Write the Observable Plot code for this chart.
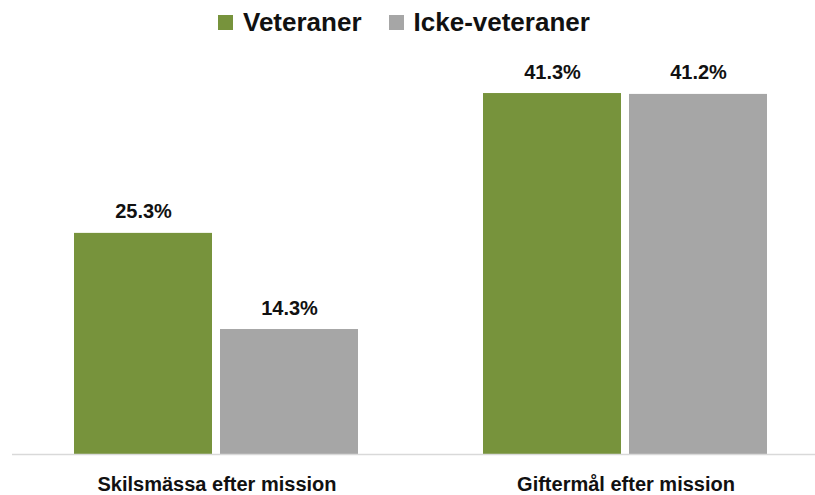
<!DOCTYPE html>
<html>
<head>
<meta charset="utf-8">
<script src="https://cdn.jsdelivr.net/npm/d3@7"></script>
<script src="https://cdn.jsdelivr.net/npm/@observablehq/plot@0.6"></script>
<style>
  html, body { margin: 0; padding: 0; background: #fff; }
  #wrap { position: relative; width: 815px; height: 495px; font-family: "Liberation Sans", Arial, sans-serif; }
  #legend { position: absolute; left: 218px; top: 7px; display: flex; align-items: center; font-weight: bold; font-size: 26px; color: #111; }
  .item { display: flex; align-items: center; margin-right: 27px; }
  .sw { width: 15px; height: 15px; margin-right: 10px; }
  svg { display: block; }
</style>
</head>
<body>
<div id="wrap"><div id="legend"></div></div>
<script>
const categories = ["Skilsmässa efter mission", "Giftermål efter mission"];
const series = ["Veteraner", "Icke-veteraner"];
const veteraner = [25.3, 41.3];
const ickeVeteraner = [14.3, 41.2];
const colors = ["#77933C", "#A6A6A6"];

const data = [];
categories.forEach((c, i) => {
  data.push({category: c, series: series[0], value: veteraner[i]});
  data.push({category: c, series: series[1], value: ickeVeteraner[i]});
});

const legend = document.getElementById("legend");
series.forEach((s, i) => {
  const it = document.createElement("div");
  it.className = "item";
  const sw = document.createElement("div");
  sw.className = "sw";
  sw.style.background = colors[i];
  const t = document.createElement("span");
  t.textContent = s;
  it.appendChild(sw); it.appendChild(t);
  legend.appendChild(it);
});

const chart = Plot.plot({
  width: 815,
  height: 495,
  marginTop: 0,
  marginLeft: 11,
  marginRight: 0,
  marginBottom: 41,
  style: {fontFamily: "'Liberation Sans', Arial, sans-serif", background: "transparent"},
  fx: {domain: categories, range: [11, 830], padding: 0, label: null},
  x: {domain: series, paddingInner: 0.054, paddingOuter: 0.42, axis: null},
  y: {domain: [0, 50], range: [454, 17], axis: null},
  color: {domain: series, range: colors},
  marks: [
    Plot.barY(data, {fx: "category", x: "series", y: "value", fill: "series"}),
    Plot.ruleY([0], {stroke: "#D9D9D9", strokeWidth: 1.5}),
    Plot.text(data, {fx: "category", x: "series", y: "value", text: d => d.value.toFixed(1) + "%", lineAnchor: "bottom", dy: -15, fontSize: 20, fontWeight: "bold", fill: "#111"}),
    Plot.axisFx({anchor: "bottom", tickSize: 0, tickPadding: 22, fontSize: 20, fontWeight: "bold", fill: "#111", label: null})
  ]
});
document.getElementById("wrap").appendChild(chart);
</script>
</body>
</html>
